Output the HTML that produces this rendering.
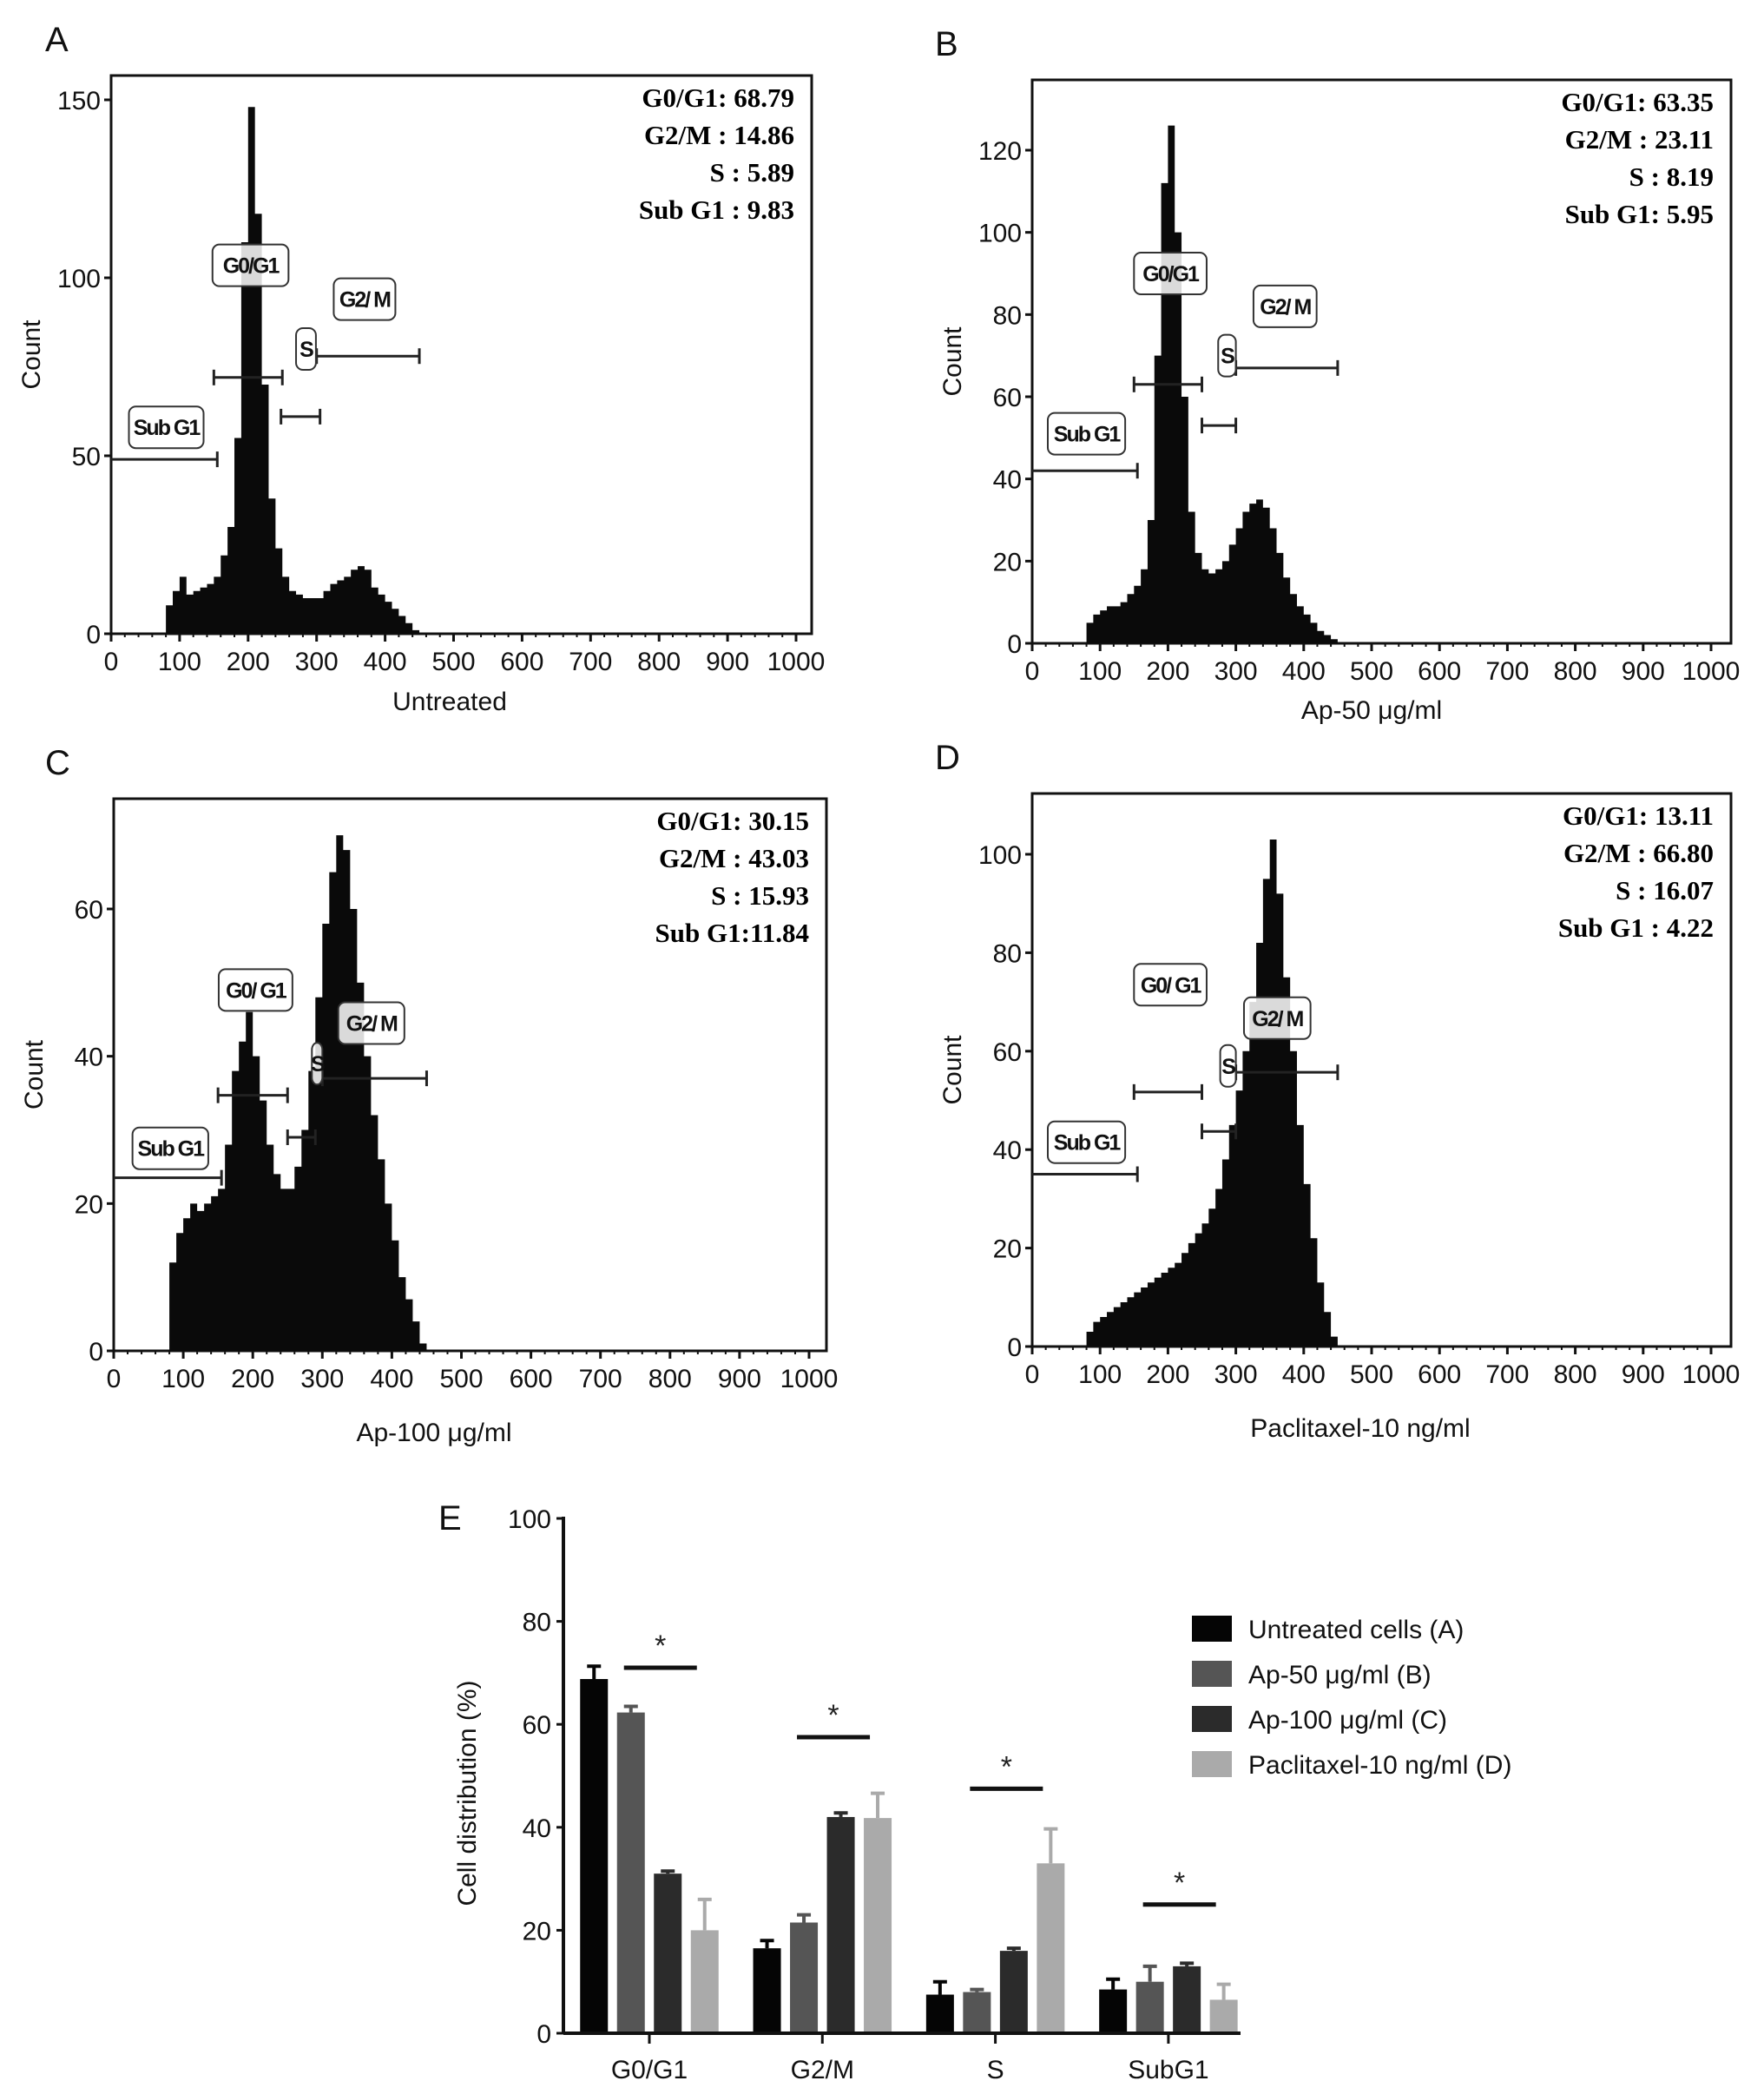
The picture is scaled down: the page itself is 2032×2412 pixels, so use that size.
<!DOCTYPE html>
<html><head><meta charset="utf-8"><style>
html,body{margin:0;padding:0;background:#fff;}
svg{display:block;font-family:"Liberation Sans",sans-serif;}
.st{font-family:"Liberation Serif",serif;font-weight:bold;font-size:31px;}
.gl{font-family:"Liberation Sans",sans-serif;font-size:25px;font-weight:bold;letter-spacing:-2px;}
</style></head><body>
<svg id="fig" width="2032" height="2412" viewBox="0 0 2032 2412" xmlns="http://www.w3.org/2000/svg"></svg>
<script>
// ---------- histogram data (bins of 10 channel units, 70..450) ----------
const binStart = 70;
const binWidth = 10;
const countsA = [0,8,12,16,11,12,13,14,16,22,30,55,110,148,118,70,38,24,16,12,11,10,10,10,12,14,15,16,18,19,18,13,11,9,7,5,3,1,0];
const countsB = [0,5,7,8,9,9,10,12,14,18,30,70,112,126,100,60,32,22,18,17,18,20,24,28,32,34,35,33,28,22,16,12,9,7,5,3,2,1,0];
const countsC = [0,12,16,18,20,19,20,21,22,28,38,42,46,40,34,28,24,22,22,25,30,38,48,58,65,70,68,60,50,40,32,26,20,15,10,7,4,1,0];
const countsD = [0,3,5,6,7,8,9,10,11,12,13,14,15,16,17,19,21,23,25,28,32,38,45,52,60,70,82,95,103,92,75,60,45,33,22,13,7,2,0];
const xTicks = [0,100,200,300,400,500,600,700,800,900,1000];
const yTicksA = [0,50,100,150];
const yTicksB = [0,20,40,60,80,100,120];
const yTicksC = [0,20,40,60];
const yTicksD = [0,20,40,60,80,100];
const statsA = ["G0/G1: 68.79","G2/M : 14.86","S  :  5.89","Sub G1 : 9.83"];
const statsB = ["G0/G1: 63.35","G2/M  : 23.11","S  : 8.19","Sub G1: 5.95"];
const statsC = ["G0/G1: 30.15","G2/M : 43.03","S  : 15.93","Sub G1:11.84"];
const statsD = ["G0/G1: 13.11","G2/M : 66.80","S  : 16.07","Sub G1 : 4.22"];

// ---------- bar chart data ----------
const phases = ["G0/G1","G2/M","S","SubG1"];
const untreated = [68.8,16.5,7.5,8.5];
const untreatedErr = [2.5,1.5,2.5,2];
const ap50 = [62.3,21.5,8,10];
const ap50Err = [1.2,1.5,0.5,3];
const ap100 = [31,42,16,13];
const ap100Err = [0.5,0.8,0.5,0.6];
const paclitaxel = [20,41.8,33,6.5];
const paclitaxelErr = [6,4.8,6.7,3];
const sigLevels = [71,57.5,47.5,25];
const barYTicks = [0,20,40,60,80,100];
const seriesNames = ["Untreated cells (A)","Ap-50 μg/ml (B)","Ap-100 μg/ml (C)","Paclitaxel-10 ng/ml (D)"];

const NS="http://www.w3.org/2000/svg";
const svg=document.getElementById('fig');
function mk(tag,attrs,parent,text){const e=document.createElementNS(NS,tag);for(const k in attrs)e.setAttribute(k,attrs[k]);if(text!==undefined)e.textContent=text;(parent||svg).appendChild(e);return e;}

function histogram(cfg){
  const g=mk('g',{});
  
  
  const X=v=>cfg.x0+(v/1000)*(cfg.x1000-cfg.x0);
  const Y=v=>cfg.y0-(v/cfg.yRef)*(cfg.y0-cfg.yRefPx);
  const fr=mk('rect',{x:cfg.left,y:cfg.top,width:cfg.right-cfg.left,height:cfg.y0-cfg.top,fill:'none',stroke:'#111','stroke-width':3},g);
  
  
  let d='M'+X(binStart)+','+Y(0);
  cfg.counts.forEach((c,i)=>{const xa=X(binStart+i*binWidth),xb=X(binStart+(i+1)*binWidth);d+=' L'+xa+','+Y(c)+' L'+xb+','+Y(c);});
  d+=' L'+X(binStart+cfg.counts.length*binWidth)+','+Y(0)+' Z';
  const h=mk('path',{d:d,fill:'#0a0a0a'},g);
  
  
  xTicks.forEach(v=>{
    mk('line',{x1:X(v),x2:X(v),y1:cfg.y0,y2:cfg.y0+9,stroke:'#111','stroke-width':3},g);
    const t=mk('text',{x:X(v),y:cfg.y0+42,'font-size':30,'text-anchor':'middle',fill:'#111'},g,v);
    
    
  });
  for(let v=0;v<=1000;v+=20)mk('line',{x1:X(v),x2:X(v),y1:cfg.y0,y2:cfg.y0+4,stroke:'#111','stroke-width':2},g);
  cfg.yTicks.forEach(v=>{
    mk('line',{x1:cfg.left-8,x2:cfg.left,y1:Y(v),y2:Y(v),stroke:'#111','stroke-width':3},g);
    const t=mk('text',{x:cfg.left-12,y:Y(v)+11,'font-size':30,'text-anchor':'end',fill:'#111'},g,v);
    
    
  });
  const yt=mk('text',{x:0,y:0,'font-size':30,'text-anchor':'middle',fill:'#111',transform:'translate('+(cfg.left-82)+','+((cfg.top+cfg.y0)/2)+') rotate(-90)'},g,'Count');
  
  
  const xt=mk('text',{x:cfg.xtX,y:cfg.xtY,'font-size':30,'text-anchor':'middle',fill:'#111'},g,cfg.xtitle);
  
  
  const pl=mk('text',{x:cfg.letterX,y:cfg.top-28,'font-size':40,fill:'#111'},g,cfg.letter);
  
  
  cfg.stats.forEach((s,i)=>{
    const t=mk('text',{x:cfg.right-20,y:cfg.top+36+i*43,'text-anchor':'end',class:'st','xml:space':'preserve'},g,s);
    
    
  });
  cfg.gates.forEach(gt=>{
    const y=Y(gt[2]);
    mk('line',{x1:X(gt[0]),x2:X(gt[1]),y1:y,y2:y,stroke:'#222','stroke-width':3},g);
    if(gt[0]>0)mk('line',{x1:X(gt[0]),x2:X(gt[0]),y1:y-9,y2:y+9,stroke:'#222','stroke-width':3},g);
    mk('line',{x1:X(gt[1]),x2:X(gt[1]),y1:y-9,y2:y+9,stroke:'#222','stroke-width':3},g);
  });
  cfg.labels.forEach(lb=>{
    const x1=X(lb[1]),x2=X(lb[2]),y=Y(lb[3]);
    const b=mk('rect',{x:x1,y:y-24,width:x2-x1,height:48,rx:8,fill:'#fff','fill-opacity':0.85,stroke:'#333','stroke-width':2},g);
    
    
    const t=mk('text',{x:(x1+x2)/2,y:y+9,'text-anchor':'middle',class:'gl',fill:'#111'},g,lb[0]);
    
    
  });
}

histogram({letter:'A',counts:countsA,yTicks:yTicksA,stats:statsA,xtitle:'Untreated',letterX:52,
  left:128,top:87,right:935,y0:730,x0:128,x1000:917,yRef:150,yRefPx:115,xtX:518,xtY:818,
  gates:[[0,155,49],[150,250,72],[248,305,61],[300,450,78]],
  labels:[['Sub G1',26,135,58],['G0/G1',148,259,103.5],['G2/ M',325,415,94],['S',270,299,80]]});
histogram({letter:'B',counts:countsB,yTicks:yTicksB,stats:statsB,xtitle:'Ap-50 μg/ml',letterX:1077,
  left:1189,top:92,right:1994,y0:741,x0:1189,x1000:1971,yRef:120,yRefPx:173,xtX:1580,xtY:828,
  gates:[[0,155,42],[150,250,63],[250,300,53],[300,450,67]],
  labels:[['Sub G1',23,137,51],['G0/G1',150,257,90],['G2/ M',326,419,82],['S',274,300,70]]});
histogram({letter:'C',counts:countsC,yTicks:yTicksC,stats:statsC,xtitle:'Ap-100 μg/ml',letterX:52,
  left:131,top:920,right:952,y0:1556,x0:131,x1000:932,yRef:60,yRefPx:1047,xtX:500,xtY:1660,
  gates:[[0,155,23.5],[150,250,34.7],[250,290,29],[300,450,37]],
  labels:[['Sub G1',27,136,27.5],['G0/ G1',151,257,49],['G2/ M',323,418,44.5],['S',285,300,39]]});
histogram({letter:'D',counts:countsD,yTicks:yTicksD,stats:statsD,xtitle:'Paclitaxel-10 ng/ml',letterX:1077,
  left:1189,top:914,right:1994,y0:1551,x0:1189,x1000:1971,yRef:100,yRefPx:984,xtX:1567,xtY:1655,
  gates:[[0,155,35],[150,250,51.7],[250,300,43.7],[300,450,55.7]],
  labels:[['Sub G1',23,137,41.5],['G0/ G1',150,257,73.5],['G2/ M',312,410,66.7],['S',277,300,57]]});

// ---------- bar chart E ----------
(function(){
  const g=mk('g',{});
  
  
  const ax=649, y0=2342, y100=1749;
  const Y=v=>y0-(v/100)*(y0-y100);
  const centers=phases.map((p,i)=>748+i*199.3);
  const cols=['#050505','#555555','#2b2b2b','#aaaaaa'];
  const series=[untreated,ap50,ap100,paclitaxel];
  const errs=[untreatedErr,ap50Err,ap100Err,paclitaxelErr];
  const bw=32, step=42.5;
  series.forEach((s,si)=>{
    s.forEach((v,ci)=>{
      const x=centers[ci]-1.5*step-bw/2+si*step;
      const r=mk('rect',{x:x,y:Y(v),width:bw,height:Y(0)-Y(v),fill:cols[si]},g);
      
      
      const e=errs[si][ci];
      mk('line',{x1:x+bw/2,x2:x+bw/2,y1:Y(v),y2:Y(v+e),stroke:cols[si],'stroke-width':4},g);
      mk('line',{x1:x+bw/2-8,x2:x+bw/2+8,y1:Y(v+e),y2:Y(v+e),stroke:cols[si],'stroke-width':4},g);
    });
  });
  sigLevels.forEach((v,ci)=>{
    const c=centers[ci]+step*0.3;
    const l=mk('line',{x1:c-42,x2:c+42,y1:Y(v),y2:Y(v),stroke:'#111','stroke-width':5},g);
    
    
    const t=mk('text',{x:c,y:Y(v)-14,'text-anchor':'middle','font-size':34,fill:'#222'},g,'*');
    
    
  });
  mk('line',{x1:ax,x2:ax,y1:y100-2,y2:y0,stroke:'#111','stroke-width':4},g);
  mk('line',{x1:ax,x2:1429,y1:y0,y2:y0,stroke:'#111','stroke-width':4},g);
  barYTicks.forEach(v=>{
    mk('line',{x1:ax-8,x2:ax,y1:Y(v),y2:Y(v),stroke:'#111','stroke-width':3},g);
    const t=mk('text',{x:ax-14,y:Y(v)+11,'text-anchor':'end','font-size':30,fill:'#111'},g,v);
    
    
  });
  phases.forEach((p,ci)=>{
    mk('line',{x1:centers[ci],x2:centers[ci],y1:y0,y2:y0+12,stroke:'#111','stroke-width':3},g);
    const t=mk('text',{x:centers[ci],y:y0+52,'text-anchor':'middle','font-size':30,fill:'#111'},g,p);
    
    
  });
  const yt=mk('text',{x:0,y:0,'font-size':30,'text-anchor':'middle',fill:'#111',transform:'translate(548,'+((y0+y100)/2+20)+') rotate(-90)'},g,'Cell distribution (%)');
  
  
  const pl=mk('text',{x:505,y:1762,'font-size':40,fill:'#111'},g,'E');
  
  
  seriesNames.forEach((n,i)=>{
    const y=1876+i*52;
    const sw=mk('rect',{x:1373,y:y-15,width:46,height:30,fill:cols[i]},g);
    
    
    const t=mk('text',{x:1438,y:y+11,'font-size':30,fill:'#111'},g,n);
    
    
  });
})();
</script>
</body></html>
